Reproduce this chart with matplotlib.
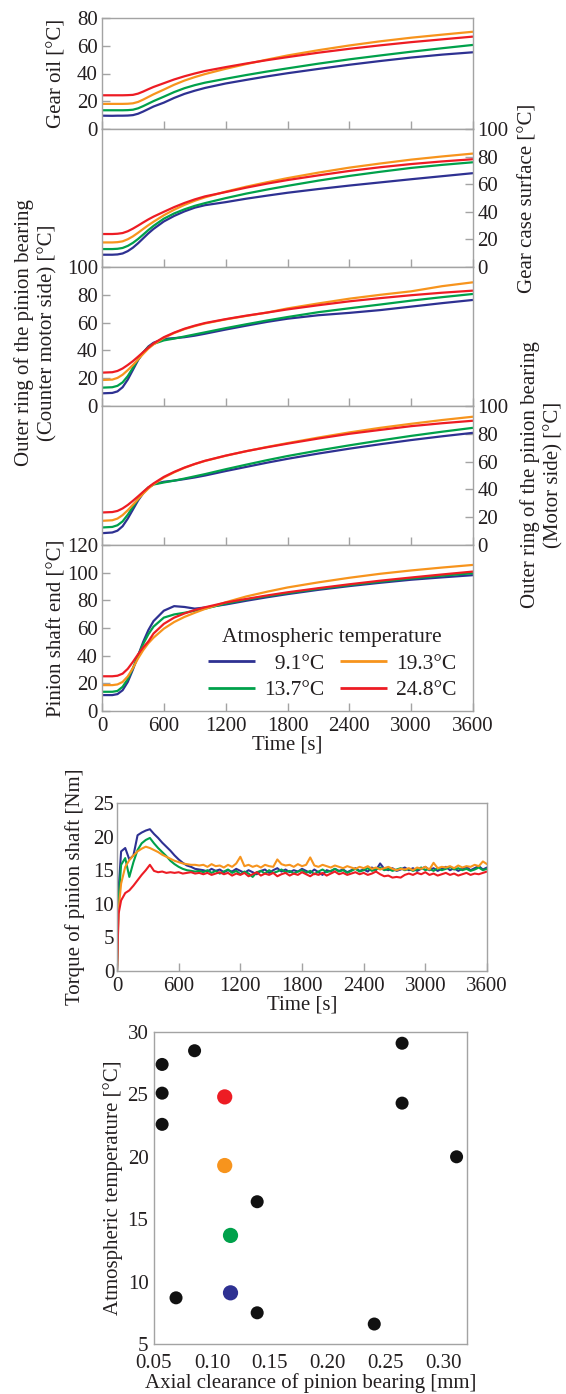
import numpy as np
import matplotlib
matplotlib.use("Agg")
import matplotlib.pyplot as plt

plt.rcParams['font.family'] = ['Liberation Serif', 'DejaVu Serif']
TEXT = '#231f20'
FRAME = '#a3a3a3'
FS = 15

# ---------------- series colours (atmospheric temperature) ----------------
labels = ['9.1°C', '13.7°C', '19.3°C', '24.8°C']
colors = ['#2e3192', '#00a14b', '#f7941d', '#ed1c24']

# ---------------- temperature histories [s], [°C] ----------------
time_s = [0, 100, 150, 200, 250, 300, 350, 400, 450, 500, 600, 700, 800, 900,
          1000, 1200, 1400, 1600, 1800, 2100, 2400, 2700, 3000, 3300, 3600]

oil_91 = [9.6, 9.5, 9.6, 9.6, 9.7, 10.0, 11.0, 12.6, 14.4, 16.2, 19.0, 22.4, 25.3, 27.6,
          29.6, 32.8, 35.4, 37.9, 40.2, 43.3, 46.3, 49.0, 51.5, 53.6, 55.3]
oil_137 = [13.5, 13.5, 13.5, 13.5, 13.6, 13.9, 14.9, 16.5, 18.3, 20.1, 23.3, 26.6, 29.4, 31.6,
           33.4, 36.2, 38.9, 41.4, 43.7, 47.1, 50.2, 53.0, 55.7, 58.2, 60.6]
oil_193 = [18.1, 18.1, 18.1, 18.1, 18.2, 18.5, 19.5, 21.2, 23.1, 25.0, 28.4, 31.9, 34.9, 37.4,
           39.6, 43.4, 46.8, 50.0, 53.0, 56.8, 60.2, 63.2, 65.8, 68.0, 70.1]
oil_248 = [24.3, 24.3, 24.3, 24.3, 24.4, 24.6, 25.5, 27.0, 28.7, 30.3, 33.0, 35.7, 38.0, 40.0,
           41.8, 44.6, 47.2, 49.6, 51.8, 55.0, 57.8, 60.3, 62.6, 64.6, 66.6]

case_91 = [8.9, 8.9, 9.1, 9.8, 11.5, 14.0, 17.2, 20.8, 24.4, 27.6, 33.0, 37.0, 40.3, 43.0,
           44.8, 47.0, 49.5, 51.7, 53.8, 56.5, 59.0, 61.3, 63.6, 65.8, 68.0]
case_137 = [13.0, 13.0, 13.2, 13.8, 15.3, 17.5, 20.3, 23.5, 26.8, 29.8, 35.0, 38.8, 41.8, 44.3,
            46.3, 49.9, 53.2, 56.1, 58.8, 62.6, 66.0, 69.0, 71.8, 74.0, 75.9]
case_193 = [17.8, 17.8, 18.0, 18.6, 20.1, 22.2, 24.8, 27.6, 30.3, 32.8, 37.5, 41.5, 45.0, 48.0,
            50.5, 54.6, 58.2, 61.4, 64.4, 68.4, 72.0, 75.0, 77.8, 80.1, 82.2]
case_248 = [23.9, 23.9, 24.1, 24.6, 25.9, 27.8, 30.0, 32.3, 34.5, 36.5, 40.0, 43.4, 46.4, 49.0,
            51.2, 54.3, 57.5, 60.4, 63.0, 66.4, 69.6, 72.3, 74.6, 76.5, 78.1]

cms_91 = [9.1, 9.4, 10.5, 13.5, 19.0, 26.0, 33.0, 38.5, 42.8, 45.5, 48.3, 48.8, 49.5, 50.6,
          52.0, 55.0, 57.8, 60.5, 62.8, 65.3, 67.0, 69.0, 71.5, 74.0, 76.3]
cms_137 = [13.2, 13.5, 14.5, 17.0, 21.5, 27.5, 33.5, 38.5, 42.3, 44.7, 47.2, 48.5, 50.0, 51.5,
           53.0, 56.0, 58.8, 61.5, 64.0, 67.5, 70.3, 73.0, 75.8, 78.3, 80.6]
cms_193 = [18.7, 19.0, 20.2, 22.5, 25.8, 29.5, 33.5, 37.5, 41.3, 44.3, 49.0, 52.5, 55.3, 57.5,
           59.4, 62.3, 64.8, 67.2, 70.2, 73.8, 77.2, 80.0, 82.5, 86.2, 89.0]
cms_248 = [24.0, 24.3, 25.2, 27.0, 29.5, 32.3, 35.5, 38.8, 42.0, 45.0, 49.5, 52.8, 55.6, 57.8,
           59.7, 62.5, 65.0, 67.2, 69.5, 72.5, 75.3, 77.6, 79.7, 81.5, 83.0]

ms_91 = [8.5, 9.0, 10.3, 13.5, 19.0, 25.5, 32.0, 37.3, 41.3, 43.8, 45.5, 46.3, 47.4, 48.6,
         50.0, 53.2, 56.2, 59.2, 62.0, 65.8, 69.3, 72.5, 75.5, 78.2, 80.7]
ms_137 = [12.6, 13.0, 14.2, 17.0, 21.8, 27.5, 33.0, 37.8, 41.3, 43.5, 45.0, 46.3, 47.8, 49.4,
          51.0, 54.5, 57.8, 61.0, 64.0, 68.0, 71.7, 75.2, 78.5, 81.5, 84.3]
ms_193 = [17.4, 17.8, 19.0, 21.5, 25.0, 29.0, 33.0, 37.0, 40.6, 43.7, 48.5, 52.3, 55.5, 58.2,
          60.5, 64.2, 67.5, 70.5, 73.3, 77.3, 81.0, 84.3, 87.2, 89.9, 92.3]
ms_248 = [23.4, 23.7, 24.5, 26.3, 28.8, 31.8, 35.0, 38.3, 41.5, 44.3, 49.0, 52.6, 55.7, 58.3,
          60.6, 64.3, 67.5, 70.3, 72.9, 76.6, 80.0, 82.8, 85.5, 87.6, 89.4]

shaft_91 = [11.5, 11.5, 12.2, 15.0, 21.0, 30.0, 40.0, 50.0, 58.5, 65.0, 72.5, 75.8, 75.2, 74.0,
            74.8, 77.0, 79.7, 82.2, 84.5, 87.6, 90.3, 92.7, 94.9, 96.6, 98.2]
shaft_137 = [13.9, 13.9, 14.5, 17.5, 23.0, 31.0, 40.0, 48.5, 55.5, 61.0, 67.5, 69.8, 71.0, 72.5,
             74.0, 77.6, 80.6, 83.0, 85.2, 88.3, 91.0, 93.5, 95.8, 97.8, 99.6]
shaft_193 = [18.7, 18.7, 19.2, 21.0, 25.0, 31.0, 38.0, 44.0, 49.0, 53.0, 59.5, 64.3, 68.0, 71.0,
             73.8, 78.6, 82.8, 86.2, 89.3, 93.0, 96.3, 99.2, 101.6, 103.7, 105.6]
shaft_248 = [25.1, 25.1, 25.5, 27.0, 30.5, 35.5, 41.0, 46.0, 50.3, 56.0, 63.0, 67.5, 70.5, 73.0,
             75.0, 78.4, 81.0, 83.5, 85.8, 88.8, 91.6, 94.2, 96.5, 98.7, 100.8]

# ---------------- torque of the pinion shaft [Nm] ----------------
torque_t = [0, 15, 40, 80, 120, 160, 200, 240, 280, 320, 360, 400, 440, 480, 520, 560,
            600, 640, 680, 720, 760, 800] + list(range(840, 3601, 40))

torque_91 = [0, 12.0, 17.8, 18.3, 16.6, 17.2, 20.2, 20.6, 20.9, 21.1, 20.4, 19.8, 19.1, 18.5,
             17.9, 17.2, 16.6, 16.1, 15.7, 15.5, 15.2, 15.1,
             15.0, 14.8, 15.2, 14.9, 15.1, 14.7, 15.0, 14.8, 15.2, 14.9,
             14.6, 15.0, 14.7, 14.4, 14.9, 15.1, 14.6, 15.0, 15.3, 14.8,
             15.1, 14.7, 15.0, 14.8, 15.2, 14.9, 14.6, 15.1, 14.7, 14.3,
             15.0, 14.8, 15.2, 14.9, 15.1, 14.7, 15.0, 15.3, 14.9, 15.1,
             14.8, 15.4, 15.0, 16.0, 15.2, 15.0, 15.3, 14.9, 15.1, 15.4,
             15.0, 15.3, 14.9, 15.2, 15.5, 15.0, 15.3, 14.9, 15.2, 15.5,
             15.0, 15.3, 14.9, 15.2, 15.5, 15.0, 15.3, 15.6, 15.1, 15.4]
torque_137 = [0, 10.5, 15.8, 16.8, 14.0, 16.2, 18.0, 19.0, 19.5, 19.8, 19.0, 18.3, 17.7, 17.1,
              16.4, 15.9, 15.5, 15.2, 15.0, 14.9, 14.8, 14.9,
              14.7, 15.0, 14.6, 14.9, 14.5, 14.8, 15.1, 14.6, 14.9, 14.4,
              14.8, 14.5, 14.0, 14.7, 14.9, 14.5, 15.0, 14.6, 14.8, 15.1,
              14.7, 14.9, 14.5, 14.8, 15.0, 14.6, 14.9, 14.4, 14.8, 15.1,
              14.7, 14.9, 15.2, 14.8, 15.0, 14.6, 14.9, 15.2, 14.8, 15.0,
              15.3, 14.9, 15.1, 15.4, 15.0, 15.2, 14.9, 15.1, 15.3, 15.0,
              15.2, 14.9, 15.1, 15.4, 15.0, 15.2, 14.9, 15.3, 15.0, 15.2,
              15.5, 15.1, 15.3, 15.0, 15.2, 14.9, 15.1, 15.4, 15.0, 15.2]
torque_193 = [0, 9.0, 13.0, 15.5, 16.5, 17.2, 17.8, 18.2, 18.5, 18.3, 18.0, 17.7, 17.3, 17.0,
              16.7, 16.4, 16.2, 16.0, 15.9, 15.8, 15.8, 15.7,
              15.8, 15.5, 15.9, 15.6, 15.7, 15.4, 15.8, 15.5, 16.0, 17.0,
              15.6, 15.8, 15.5, 15.7, 15.4, 15.8, 15.6, 15.5, 16.6, 15.9,
              15.7, 15.8, 15.5, 15.9, 15.6, 15.8, 16.9, 15.7, 15.5, 15.8,
              15.6, 15.4, 15.7, 15.5, 15.3, 15.6, 15.4, 15.2, 15.5, 15.3,
              15.6, 15.2, 15.4, 15.1, 15.3, 15.5, 15.2, 15.0, 15.2, 15.1,
              15.3, 15.0, 15.4, 15.2, 15.5, 15.1, 16.1, 15.3, 15.5, 15.4,
              15.6, 15.3, 15.7, 15.4, 15.6, 15.5, 15.8, 15.6, 16.3, 15.9]
torque_248 = [0, 8.5, 10.5, 11.6, 12.0, 12.7, 13.5, 14.3, 15.0, 15.8, 14.9, 14.7, 14.8, 14.6,
              14.7, 14.6, 14.7, 14.5, 14.6, 14.7, 14.5, 14.6,
              14.4, 14.6, 14.3, 14.5, 14.7, 14.4, 14.6, 14.2, 14.5, 14.3,
              14.6, 14.1, 14.4, 14.7, 14.2, 14.5, 14.3, 14.6, 14.1, 14.4,
              14.6, 14.2, 14.5, 14.3, 14.7, 14.4, 14.1, 14.5, 14.3, 14.6,
              14.2, 14.5, 14.8, 14.4, 14.6, 14.3, 14.5, 14.7, 14.4, 14.6,
              14.3, 14.5, 14.8, 14.4, 14.1, 14.2, 13.9, 14.0, 13.9, 14.3,
              14.5, 14.3, 14.6, 14.4, 14.7, 14.3, 14.5, 14.2, 14.4, 14.6,
              14.3, 14.5, 14.2, 14.4, 14.6, 14.3, 14.5, 14.4, 14.6, 14.8]

# ---------------- test conditions: clearance [mm] vs. atmosphere [°C] ----------------
clear_other = [0.057, 0.085, 0.057, 0.057, 0.139, 0.069, 0.139, 0.240, 0.264, 0.264, 0.311]
atm_other = [27.4, 28.5, 25.1, 22.6, 16.4, 8.7, 7.5, 6.6, 29.1, 24.3, 20.0]
clear_sel = [0.116, 0.116, 0.111, 0.111]
atm_sel = [9.1, 13.7, 19.3, 24.8]

# ---------------- layout helpers ----------------
W, H = 566, 1394
fig = plt.figure(figsize=(W / 100, H / 100), dpi=100)


def box(left, top, right, bottom):
    return [left / W, 1 - bottom / H, (right - left) / W, (bottom - top) / H]


def frame(ax):
    for s in ax.spines.values():
        s.set_color(FRAME)
        s.set_linewidth(1.0)
    ax.tick_params(colors=FRAME, labelcolor=TEXT, direction='in', length=6, width=1,
                   labelsize=FS, pad=3)


panels = [
    ((18, 129), 80, 'left', [oil_91, oil_137, oil_193, oil_248]),
    ((129, 267), 100, 'right', [case_91, case_137, case_193, case_248]),
    ((267, 406), 100, 'left', [cms_91, cms_137, cms_193, cms_248]),
    ((406, 545), 100, 'right', [ms_91, ms_137, ms_193, ms_248]),
    ((545, 711), 120, 'left', [shaft_91, shaft_137, shaft_193, shaft_248]),
]

axes = []
for i, ((top, bottom), ymax, side, series) in enumerate(panels):
    ax = fig.add_axes(box(102, top, 473, bottom))
    frame(ax)
    for ys, c in zip(series, colors):
        ax.plot(time_s, ys, color=c, lw=1.6, solid_capstyle='butt')
    ax.set_xlim(0, 3600)
    ax.set_ylim(0, ymax)
    ax.set_xticks(range(0, 3601, 600))
    ax.set_yticks(range(0, ymax + 1, 20))
    ax.tick_params(axis='x', bottom=True, top=False, labelbottom=(i == 4))
    if side == 'left':
        ax.tick_params(axis='y', left=True, right=False, labelleft=True, labelright=False)
    else:
        ax.tick_params(axis='y', left=False, right=True, labelleft=False, labelright=True)
    axes.append(ax)

ax5 = axes[4]
ax5.set_xlabel('Time [s]', fontsize=FS, color=TEXT, labelpad=0)
ax5.tick_params(axis='x', pad=4)

leg = ax5.legend(ax5.get_lines(), ['\u2007' + labels[0], labels[1], labels[2], labels[3]],
                 title='Atmospheric temperature', ncol=2, frameon=False, fontsize=15.5,
                 title_fontsize=15.5, loc='upper left', bbox_to_anchor=(0.285, 0.50),
                 handlelength=2.2, handletextpad=0.4, columnspacing=0.75,
                 labelspacing=0.3, borderpad=0.0, borderaxespad=0.0)
for lh in leg.get_lines():
    lh.set_linewidth(2.0)
for t in leg.get_texts():
    t.set_color(TEXT)
leg.get_title().set_color(TEXT)

# axis titles of the stacked temperature panels
kw = dict(rotation=90, ha='center', va='center', color=TEXT, multialignment='center',
          fontsize=FS)
fig.text(57 / W, 1 - 73.5 / H, 'Gear oil [°C]', **kw)
fig.text(528 / W, 1 - 198 / H, 'Gear case surface [°C]', **kw)
fig.text(36 / W, 1 - 333 / H, 'Outer ring of the pinion bearing\n(Counter motor side) [°C]',
         linespacing=1.3, **kw)
fig.text(542 / W, 1 - 475 / H, 'Outer ring of the pinion bearing\n(Motor side) [°C]',
         linespacing=1.3, **kw)
fig.text(57 / W, 1 - 628 / H, 'Pinion shaft end [°C]', **kw)

# ---------------- torque panel ----------------
axt = fig.add_axes(box(117, 803, 487, 971))
frame(axt)
for ys, c in zip([torque_91, torque_137, torque_193, torque_248], colors):
    axt.plot(torque_t, ys, color=c, lw=1.5)
axt.set_xlim(0, 3600)
axt.set_ylim(0, 25)
axt.set_xticks(range(0, 3601, 600))
axt.set_yticks(range(0, 26, 5))
axt.tick_params(axis='y', length=0, pad=2)
axt.tick_params(axis='x', pad=4)
axt.set_xlabel('Time [s]', fontsize=FS, color=TEXT, labelpad=0)
axt.set_ylabel('Torque of pinion shaft [Nm]', fontsize=FS, color=TEXT, labelpad=6)

# ---------------- test condition scatter ----------------
axs = fig.add_axes(box(154, 1032, 467, 1344))
frame(axs)
axs.scatter(clear_other, atm_other, s=88, color='#111111', edgecolors='none', zorder=3)
axs.scatter(clear_sel, atm_sel, s=120, color=colors, edgecolors='none', zorder=3)
axs.set_xlim(0.05, 0.32)
axs.set_ylim(5, 30)
axs.set_xticks([0.05, 0.10, 0.15, 0.20, 0.25, 0.30])
axs.set_xticklabels(['0.05', '0.10', '0.15', '0.20', '0.25', '0.30'])
axs.set_yticks(range(5, 31, 5))
axs.tick_params(length=0, pad=4)
axs.tick_params(axis='x', pad=7)
axs.set_xlabel('Axial clearance of pinion bearing [mm]', fontsize=FS, color=TEXT, labelpad=0)
axs.set_ylabel('Atmospheric temperature [°C]', fontsize=FS, color=TEXT, labelpad=3)

fig.savefig('out.png', dpi=100, facecolor='white')
